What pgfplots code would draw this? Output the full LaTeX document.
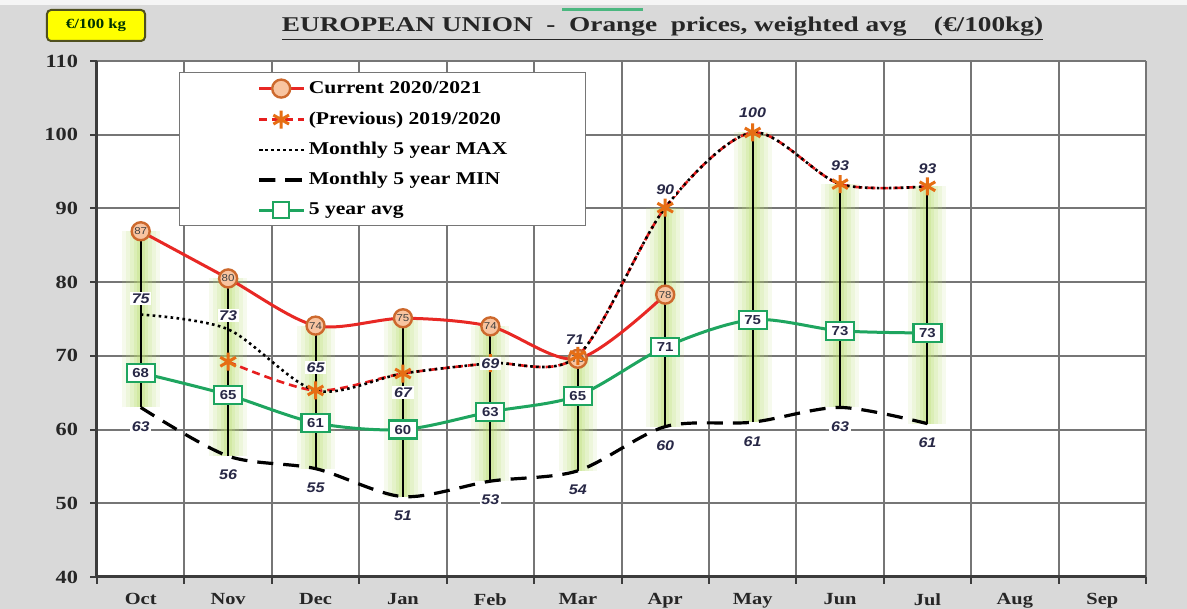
\documentclass[border=0pt]{standalone}
\usepackage{fontspec}
\setmainfont{Liberation Serif}[FakeStretch=1.2]
\newfontfamily\lblfont{Liberation Sans}[FakeStretch=1.15]
\newfontfamily\titlefont{Liberation Serif}[FakeStretch=1.3]
\usepackage{pgfplots}
\pgfplotsset{compat=1.18}
\usepackage{pgfplotstable}
\usetikzlibrary{calc,backgrounds}

\definecolor{bggray}{RGB}{217,217,217}
\definecolor{gridgray}{RGB}{118,118,118}
\definecolor{axisgray}{RGB}{60,60,60}
\definecolor{curred}{RGB}{232,40,36}
\definecolor{prevred}{RGB}{230,30,30}
\definecolor{starorange}{RGB}{230,110,20}
\definecolor{circedge}{RGB}{205,105,45}
\definecolor{circfill}{RGB}{248,196,160}
\definecolor{avggreen}{RGB}{30,165,95}
\definecolor{glowgreen}{RGB}{185,222,110}
\definecolor{lblblue}{RGB}{40,40,70}
\definecolor{ylw}{RGB}{255,255,0}
\definecolor{ylwedge}{RGB}{80,80,30}

\pgfplotstableread{
x y lab
0 86.9 87
1 80.5 80
2 74.1 74
3 75.1 75
4 74.0 74
5 69.6 70
6 78.3 78
}\cur

\pgfplotstableread{
x y
1 69.2
2 65.3
3 67.6
4 69.0
5 70.0
6 90.1
7 100.3
8 93.3
9 93.0
}\prev

\pgfplotstableread{
x y dx dy lab
0 75.6 0 8 75
1 73.6 0 7 73
2 65.3 0 11.5 65
3 67.6 0 -9.5 67
4 69.0 0 0 69
5 70.0 -1.5 8 71
6 90.1 0 9 90
7 100.3 0 10 100
8 93.3 0 9 93
9 93.0 0 9 93
}\maxt

\pgfplotstableread{
x y lab
0 63.0 63
1 56.4 56
2 54.7 55
3 50.9 51
4 53.0 53
5 54.4 54
6 60.4 60
7 61.0 61
8 63.0 63
9 60.8 61
}\mint

\pgfplotstableread{
x y lab
0 67.7 68
1 64.7 65
2 60.9 61
3 60.0 60
4 62.4 63
5 64.6 65
6 71.2 71
7 74.9 75
8 73.4 73
9 73.1 73
}\avgt

\pgfplotstableread{
x y
0 63.0
0 86.9
0 nan
1 56.4
1 80.5
1 nan
2 54.7
2 74.1
2 nan
3 50.9
3 75.1
3 nan
4 53.0
4 74.0
4 nan
5 54.4
5 70.0
5 nan
6 60.4
6 90.1
6 nan
7 61.0
7 100.3
7 nan
8 63.0
8 93.3
8 nan
9 60.8
9 93.0
}\hlt

\begin{document}
\begin{tikzpicture}
\begin{axis}[
  scale only axis, width=524.5pt, height=258pt,
  xmin=-0.5, xmax=11.5, ymin=40, ymax=110,
  enlargelimits=false,
  axis background/.style={fill=white},
  axis x line*=bottom, axis y line*=left,
  axis line style={axisgray, line width=1.5pt},
  tick align=outside,
  major tick length=3.5pt,
  tick style={axisgray, line width=1pt},
  xtick={-0.5,0.5,...,11.5}, xticklabels={},
  extra x ticks={0,1,...,11},
  extra x tick labels={Oct,Nov,Dec,Jan,Feb,Mar,Apr,May,Jun,Jul,Aug,Sep},
  extra x tick style={grid=none, tick style={draw=none}},
  ytick={40,50,...,110},
  xmajorgrids, ymajorgrids,
  grid style={gridgray, line width=1pt},
  /pgf/number format/assume math mode=true,
  yticklabel style={font=\bfseries\fontsize{9.3}{10}\selectfont, text=black!85, xshift=-2.5pt},
  xticklabel style={font=\bfseries\fontsize{8.5}{10}\selectfont, text=black!85, yshift=-1.2pt},
  unbounded coords=jump,
  legend cell align=left,
  legend style={at={(rel axis cs:0,1)}, anchor=north west, xshift=41pt, yshift=-5.5pt,
    draw=gridgray, line width=0.6pt, fill=white, inner xsep=39pt, inner ysep=3.5pt,
    row sep=6.5pt, column sep=2pt,
    font=\bfseries\fontsize{9}{10}\selectfont,
    nodes={text height=6.5pt, text depth=2pt, inner sep=0pt}},
  legend image code/.code={\draw[mark repeat=2,mark phase=2,#1] plot coordinates {(0pt,0pt)(11pt,0pt)(22pt,0pt)};},
]
\coordinate (SW) at (rel axis cs:0,0);
\coordinate (NE) at (rel axis cs:1,1);
% glow
\addplot[forget plot, glowgreen, opacity=0.12, line width=19pt] table[x=x,y=y]{\hlt};
\addplot[forget plot, glowgreen, opacity=0.14, line width=15pt] table[x=x,y=y]{\hlt};
\addplot[forget plot, glowgreen, opacity=0.16, line width=11pt] table[x=x,y=y]{\hlt};
\addplot[forget plot, glowgreen, opacity=0.2, line width=7pt] table[x=x,y=y]{\hlt};
\addplot[forget plot, glowgreen, opacity=0.25, line width=4pt] table[x=x,y=y]{\hlt};
% high-low lines
\addplot[forget plot, black, line width=1pt] table[x=x,y=y]{\hlt};
% Current
\addplot[curred, line width=1.5pt, smooth, tension=0.5, mark=*, mark size=4.5pt,
  mark options={fill=circfill, draw=circedge, line width=1.2pt, solid},
  point meta=explicit symbolic, nodes near coords,
  every node near coord/.append style={anchor=center, font=\lblfont\fontsize{5}{5}\selectfont, text=black!75, inner sep=0pt}]
  table[x=x,y=y,meta=lab]{\cur};
\addlegendentry{Current 2020/2021}
% Previous
\addplot[prevred, line width=1.3pt, dash pattern=on 4pt off 2.5pt, smooth, tension=0.5,
  mark=asterisk, mark size=4.5pt, mark options={solid, draw=starorange, line width=1.5pt}]
  table[x=x,y=y]{\prev};
\addlegendentry{(Previous) 2019/2020}
% Max
\addplot[black, line width=1.3pt, dash pattern=on 1.3pt off 1.7pt, smooth, tension=0.5]
  table[x=x,y=y]{\maxt};
\addlegendentry{Monthly 5 year MAX}
% Min
\addplot[black, line width=1.6pt, dash pattern=on 8pt off 5pt, smooth, tension=0.5]
  table[x=x,y=y]{\mint};
\addlegendentry{Monthly 5 year MIN}
% Avg
\addplot[avggreen, line width=1.5pt, smooth, tension=0.5, mark=square*, mark size=4pt,
  mark options={fill=white, draw=avggreen, solid, line width=1pt},
  point meta=explicit symbolic, nodes near coords,
  every node near coord/.append style={anchor=center, draw=avggreen, fill=white, line width=1.1pt,
    minimum width=14pt, minimum height=9pt, inner sep=0pt,
    font=\lblfont\bfseries\fontsize{6.5}{7}\selectfont, text=lblblue}]
  table[x=x,y=y,meta=lab]{\avgt};
\addlegendentry{5 year avg}
% Max labels
\addplot[forget plot, draw=none, mark=none, point meta=explicit symbolic,
  visualization depends on={\thisrow{dx}\as\lbldx},
  visualization depends on={\thisrow{dy}\as\lbldy},
  nodes near coords,
  every node near coord/.append style={anchor=center, xshift=\lbldx pt, yshift=\lbldy pt,
    fill=white, inner sep=0.8pt, font=\lblfont\bfseries\itshape\fontsize{7}{8}\selectfont, text=lblblue}]
  table[x=x,y=y,meta=lab]{\maxt};
% Min labels
\addplot[forget plot, draw=none, mark=none, point meta=explicit symbolic,
  nodes near coords,
  every node near coord/.append style={anchor=center, yshift=-9.5pt,
    fill=white, inner sep=0.8pt, font=\lblfont\bfseries\itshape\fontsize{7}{8}\selectfont, text=lblblue}]
  table[x=x,y=y,meta=lab]{\mint};
\end{axis}
% title and tag
\node[anchor=base, font=\titlefont\bfseries\fontsize{10.5}{12}\selectfont, text=black!85]
  at ($(SW|-NE)+(282.75pt,14.5pt)$)
  {\underline{EUROPEAN UNION\ \ -\ \ Orange\ \ prices, weighted avg\ \ \ \ (€/100kg)}};
\node[draw=ylwedge, fill=ylw, line width=1pt, rounded corners=2pt, minimum width=49pt,
  minimum height=15.5pt, inner sep=0pt, font=\bfseries\fontsize{7}{8}\selectfont, text=black!80!green]
  at ($(SW|-NE)+(-0.5pt,17.75pt)$) {€/100 kg};
\draw[avggreen!80, line width=1.5pt] ($(SW|-NE)+(232.5pt,25.5pt)$) -- ($(SW|-NE)+(273pt,25.5pt)$);
\begin{scope}[on background layer]
\fill[bggray] ($(SW)+(-48.5pt,-16pt)$) rectangle ($(NE)+(20.5pt,30.5pt)$);
\fill[black!4] ($(SW|-NE)+(-48.5pt,28pt)$) rectangle ($(NE)+(20.5pt,30.5pt)$);
\end{scope}
\pgfresetboundingbox
\path[use as bounding box] ($(SW)+(-48.5pt,-16pt)$) rectangle ($(NE)+(20.5pt,30.5pt)$);
\end{tikzpicture}
\end{document}
